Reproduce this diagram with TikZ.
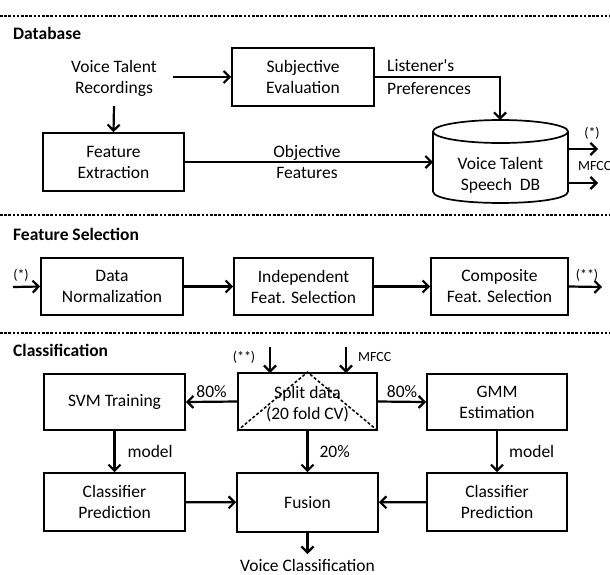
\documentclass[tikz,border=0pt]{standalone}
\usepackage{fontspec}
\setmainfont{Carlito}[Ligatures=TeXOff]
\usetikzlibrary{arrows.meta}
\newcommand\mainsz{\fontsize{17.5}{21}\selectfont}
\newcommand\smallsz{\fontsize{14}{16}\selectfont}
\begin{document}
\begin{tikzpicture}[x=1pt,y=-1pt,
  box/.style={draw,line width=1.7pt,align=center,inner sep=0pt,font=\mainsz},
  lbl/.style={font=\mainsz,align=center,inner sep=0pt},
  slbl/.style={font=\smallsz,inner sep=0pt},
  sect/.style={font=\mainsz\bfseries,anchor=west,inner sep=0pt},
  arr/.style={line width=2.2pt,-{Straight Barb[length=6pt,width=12pt]}},
  sep/.style={line width=1.6pt,dash pattern=on 2.6pt off 1.6pt},
  tri/.style={line width=1.5pt,dash pattern=on 3pt off 2pt}]
\fill[white] (0,0) rectangle (610,574);
\useasboundingbox (0,0) rectangle (610,574);

% ---------------- Database ----------------
\node[sect] (t1) at (13,33) {Database};
\node[lbl] (vtr) at (114,78) {Voice Talent\\Recordings};
\node[box,minimum width=142pt,minimum height=58pt] (subj) at (303,77) {Subjective\\Evaluation};
\node[box,minimum width=141pt,minimum height=58pt] (featx) at (113.5,162) {Feature\\Extraction};
\coordinate (vtrR) at (173,77);
\coordinate (vtrB) at (114,106);
\draw[arr] (vtrR) -- (subj.west);
\draw[arr] (vtrB) -- (featx.north);
\node[font=\fontsize{17.5}{23}\selectfont,align=left,anchor=west,inner sep=0pt] (lp) at (387,77) {Listener's\\Preferences};
\node[lbl] (of) at (307,162) {Objective\\Features};

% cylinder
\fill[white] (433,131.5) -- (433,191.5) .. controls (433,206.8) and (568,206.8) .. (568,191.5) -- (568,131.5) -- cycle;
\draw[line width=1.7pt] (433,131.5) -- (433,191.5) .. controls (433,206.8) and (568,206.8) .. (568,191.5) -- (568,131.5);
\draw[line width=1.7pt,fill=white] (500.5,131.5) ellipse [x radius=67.5, y radius=11.5];
\node[lbl] (db) at (500.5,175) {Voice Talent\\Speech\ \ DB};
\coordinate (dbtop) at (500,120);
\coordinate (dbleft) at (433,162);
\draw[arr] (subj.east) -| (dbtop);
\draw[arr] (featx.east) -- (dbleft);
\coordinate (o1s) at (568,149); \coordinate (o1e) at (598,149);
\coordinate (o2s) at (568,183); \coordinate (o2e) at (598,183);
\draw[arr] (o1s) -- (o1e);
\draw[arr] (o2s) -- (o2e);
\node[slbl] (st1) at (592,133) {(*)};
\node[slbl,anchor=west] (mf1) at (578,166) {MFCC};

% ---------------- Feature Selection ----------------
\node[sect] (t2) at (13,234) {Feature Selection};
\node[box,minimum width=142pt,minimum height=57pt] (dn) at (112,286.5) {Data\\Normalization};
\node[box,minimum width=139pt,minimum height=57pt] (indep) at (303.5,286.5) {Independent\\Feat. Selection};
\node[box,minimum width=137pt,minimum height=57pt] (comp) at (499.5,286.5) {Composite\\Feat. Selection};
\coordinate (fsin) at (13,287);
\coordinate (fsout) at (602,287);
\draw[arr] (fsin) -- (dn.west);
\draw[arr] (dn) -- (indep);
\draw[arr] (indep) -- (comp);
\draw[arr] (comp.east) -- (fsout);
\node[slbl] (st2) at (21,275) {(*)};
\node[slbl] (st3) at (587,275) {(**)};

% ---------------- Classification ----------------
\node[sect] (t3) at (13,350) {Classification};
\node[box,minimum width=141pt,minimum height=56pt] (svm) at (114.5,402) {SVM Training};
\node[box,minimum width=139pt,minimum height=57pt] (split) at (307.5,401.5) {};
\node[box,minimum width=140pt,minimum height=56pt] (gmm) at (497,402) {GMM\\Estimation};
\node[box,minimum width=141pt,minimum height=58pt] (cp1) at (114.5,502) {Classifier\\Prediction};
\node[box,minimum width=141pt,minimum height=59pt] (fus) at (307.5,502.5) {Fusion};
\node[box,minimum width=140pt,minimum height=58pt] (cp2) at (497,502) {Classifier\\Prediction};
\draw[tri] (split.south west) -- (split.north) -- (split.south east);
\node[lbl] (spt) at (307.5,404) {Split data\\(20 fold CV)};

\coordinate (in1a) at (270,347); \coordinate (in1b) at (270,373);
\coordinate (in2a) at (346,347); \coordinate (in2b) at (346,373);
\draw[arr] (in1a) -- (in1b);
\draw[arr] (in2a) -- (in2b);
\node[slbl] (st4) at (244,357) {(**)};
\node[slbl,anchor=west] (mf2) at (358,357) {MFCC};

\draw[arr] (split.west) -- (svm.east) node[lbl,midway,above=3pt] {80\%};
\draw[arr] (split.east) -- (gmm.west) node[lbl,midway,above=3pt] {80\%};
\draw[arr] (svm) -- (cp1) node[lbl,midway,right=12pt] {model};
\draw[arr] (split) -- (fus) node[lbl,midway,right=11pt] {20\%};
\draw[arr] (gmm) -- (cp2) node[lbl,midway,right=11pt] {model};
\draw[arr] (cp1) -- (fus);
\draw[arr] (cp2) -- (fus);
\coordinate (outc) at (307.5,554);
\draw[arr] (fus.south) -- (outc);
\node[lbl] (vc) at (307.5,565) {Voice Classification};

% separators
\coordinate (s1a) at (0,16);  \coordinate (s1b) at (610,16);
\coordinate (s2a) at (0,215); \coordinate (s2b) at (610,215);
\coordinate (s3a) at (0,333); \coordinate (s3b) at (610,333);
\draw[sep] (s1a) -- (s1b);
\draw[sep] (s2a) -- (s2b);
\draw[sep] (s3a) -- (s3b);
\end{tikzpicture}
\end{document}
